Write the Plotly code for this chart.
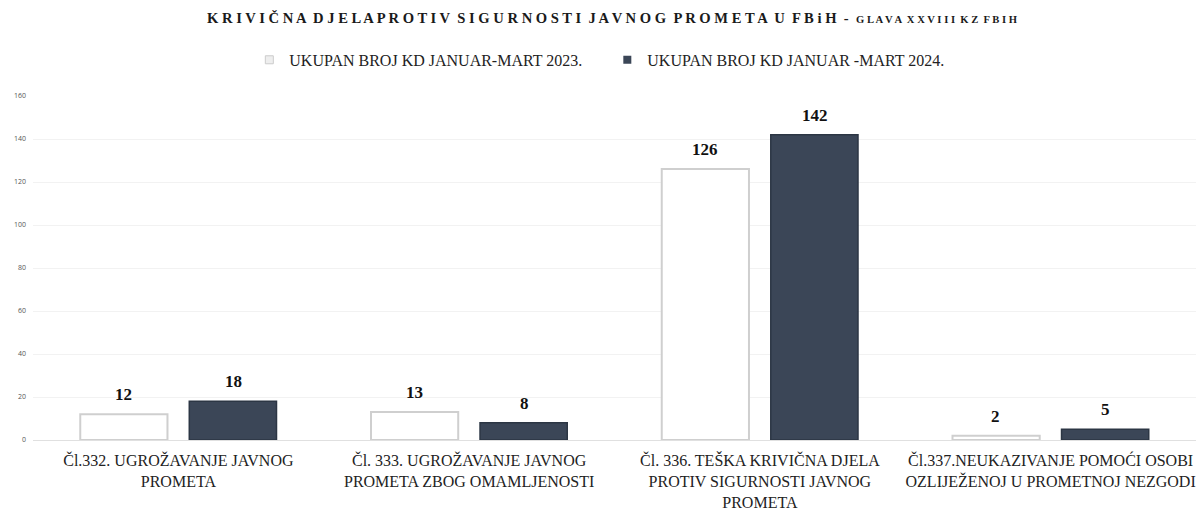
import plotly.graph_objects as go

categories = [
    "Čl.332. UGROŽAVANJE JAVNOG<br>PROMETA",
    "Čl. 333. UGROŽAVANJE JAVNOG<br>PROMETA ZBOG OMAMLJENOSTI",
    "Čl. 336. TEŠKA KRIVIČNA DJELA<br>PROTIV SIGURNOSTI JAVNOG<br>PROMETA",
    "Čl.337.NEUKAZIVANJE POMOĆI OSOBI<br>OZLIJEŽENOJ U PROMETNOJ NEZGODI",
]
series_names = ["UKUPAN BROJ KD JANUAR-MART 2023.", "UKUPAN BROJ KD JANUAR -MART 2024."]
values_2023 = [12, 13, 126, 2]
values_2024 = [18, 8, 142, 5]
y_ticks = [0, 20, 40, 60, 80, 100, 120, 140, 160]

SERIF = "Liberation Serif"
C23 = "#ffffff"
C23_LINE = "#cfcfcf"
C24 = "#3b4657"
C24_LINE = "#2c3644"

fig = go.Figure()
fig.add_trace(go.Bar(
    x=categories, y=values_2023, name=series_names[0], showlegend=False,
    marker=dict(color=C23, line=dict(color=C23_LINE, width=2)),
))
fig.add_trace(go.Bar(
    x=categories, y=values_2024, name=series_names[1], showlegend=False,
    marker=dict(color=C24, line=dict(color=C24_LINE, width=1.5)),
))
# legend entries with small square symbols
fig.add_trace(go.Scatter(
    x=[None], y=[None], mode="markers", name=series_names[0],
    marker=dict(symbol="square", size=8, color="#eeeeee", line=dict(color="#cccccc", width=1)),
))
fig.add_trace(go.Scatter(
    x=[None], y=[None], mode="markers", name=series_names[1],
    marker=dict(symbol="square", size=8, color=C24),
))

# value labels
annotations = []
for vals, shift in ((values_2023, -55), (values_2024, 55)):
    for c, v in zip(categories, vals):
        annotations.append(dict(
            x=c, y=v, xref="x", yref="y", text=f"<b>{v}</b>", showarrow=False,
            xshift=shift, yanchor="bottom", yshift=8,
            font=dict(family=SERIF, size=17, color="#111111"),
        ))

fig.update_layout(
    width=1200, height=511,
    paper_bgcolor="white", plot_bgcolor="white",
    margin=dict(l=33, r=4, t=96, b=71, autoexpand=False),
    barmode="group", bargap=0.25, bargroupgap=0.2,
    title=dict(
        text="<b>K R I V I Č N A  D J E L A P R O T I V  S I G U R N O S T I  J A V N O G  P R O M E T A  U  F B i H  -</b>  "
             "<span style='font-size:10.6px'><b>G L A V A  X X V I I I  K Z  F B I H</b></span>",
        x=0.51, xanchor="center", y=0.965, yanchor="middle",
        font=dict(family=SERIF, size=14.6, color="#1a1a1a"),
    ),
    legend=dict(
        orientation="h", x=0.186, xanchor="left", y=1.105, yanchor="middle",
        font=dict(family=SERIF, size=16, color="#222222"),
        itemwidth=30, entrywidth=313, traceorder="normal",
    ),
    showlegend=True,
    annotations=annotations,
)
fig.update_xaxes(
    tickfont=dict(family=SERIF, size=16, color="#222222"),
    showline=True, linecolor="#e0e0e0", linewidth=1,
    ticks="", ticklabelstandoff=6, automargin=False,
)
fig.update_yaxes(
    range=[0, 160], tickvals=y_ticks,
    tickfont=dict(family="Open Sans", size=7, color="#555555"),
    showgrid=True, gridcolor="#f2f2f2", gridwidth=1,
    zeroline=False, ticks="", ticklabelstandoff=6, automargin=False,
)
fig.write_html("out.html", config={"displayModeBar": False},
               post_script="document.body.style.margin='0';")
